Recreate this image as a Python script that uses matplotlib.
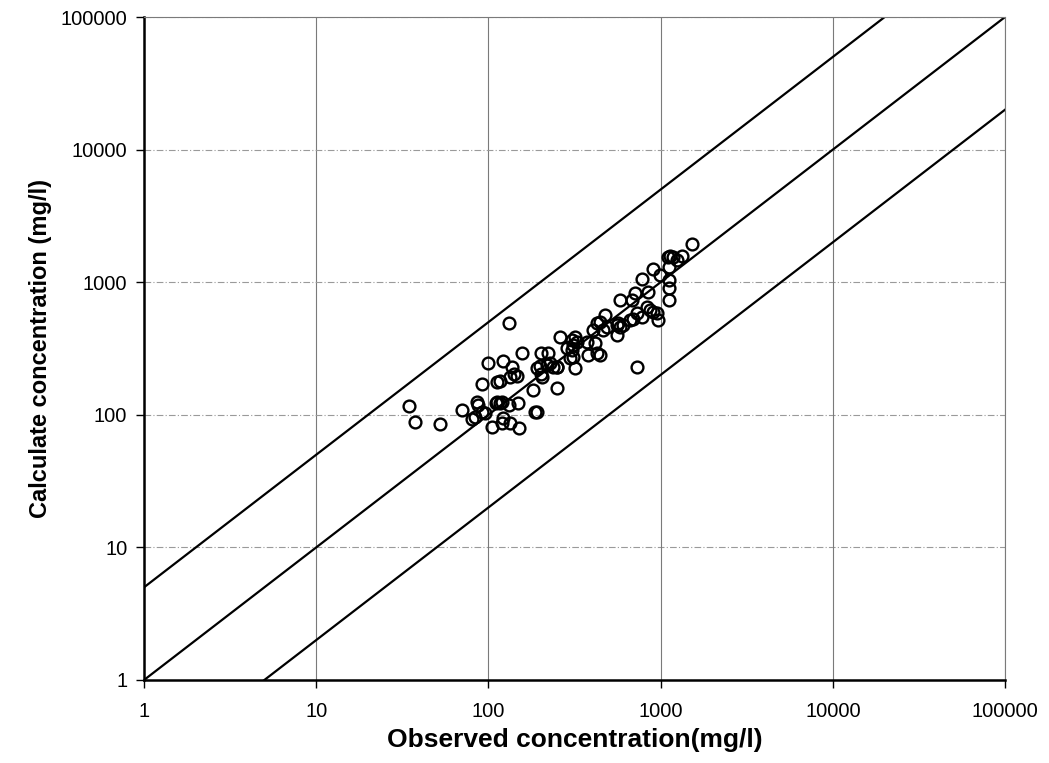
import numpy as np
import matplotlib
matplotlib.use("Agg")
from matplotlib import pyplot as plt

plt.rcParams['font.family'] = ['Liberation Sans', 'DejaVu Sans']

# observed (x) vs calculated (y) concentration, mg/l
observed = [34.6, 37.3, 52.4, 70.6,
            80, 83.6, 85.5, 87.4, 91.4, 95.5,
            104.4, 112.6, 116.8, 119.4, 110.7,
            122, 119.4, 133.5, 151, 149, 132,
            182, 191, 187, 249,
            100, 121, 132, 156, 92, 116.8, 112, 133.5, 141.5, 146, 136.5,
            192, 198, 201, 204, 218, 228, 238, 249, 202, 223, 249,
            261, 285, 305, 311, 318, 326, 311, 318, 298, 305,
            372, 381, 416, 425, 445, 407,
            425, 445, 476, 465, 486, 556, 568, 581, 556, 608, 664, 695, 777, 726, 679, 710, 581,
            830, 867, 907, 949, 970, 726, 777, 849, 907, 993,
            1109, 1135, 1186, 1240, 1325, 1125, 1125, 1125, 1125, 1514]
calculated = [116, 88, 85.2, 108.7,
              92.4, 96.8, 125.6, 118.6, 105.6, 102.6,
              81.3, 125.6, 122, 125.6, 122,
              94, 86.3, 86.3, 80, 122, 118.6,
              154, 105.6, 105.6, 158,
              244, 255, 495, 294, 170, 180, 176, 194, 202, 197, 231,
              224, 233, 203, 194, 238, 247, 231, 228, 294, 294, 231,
              388, 317, 367, 336, 388, 356, 274, 224, 267, 308,
              356, 282, 346, 291, 282, 436,
              490, 504, 566, 436, 462, 476, 490, 462, 400, 476, 519, 525, 550, 582, 734, 824, 734,
              654, 617, 600, 582, 519, 228, 1051, 849, 1250, 1133,
              1559, 1577, 1559, 1469, 1577, 1309, 1039, 899, 734, 1941]

ratios = [5, 1, 0.2]   # y = 5x, y = x, y = x/5
line_x = [1, 100000]
ticks = [1, 10, 100, 1000, 10000, 100000]
tick_labels = ['1', '10', '100', '1000', '10000', '100000']

fig = plt.figure(figsize=(10.49, 7.63), dpi=100)
ax = fig.add_axes([0.1373, 0.1088, 0.8208, 0.8689])
ax.set_xscale('log')
ax.set_yscale('log')
ax.set_xlim(1, 100000)
ax.set_ylim(1, 100000)

# grid
for t in ticks:
    ax.axvline(t, color='#7a7a7a', lw=0.8, zorder=0)
    ax.axhline(t, color='#9a9a9a', lw=0.8, ls=(0, (6, 2, 1, 2)), zorder=0)

for r in ratios:
    ax.plot(line_x, [r * v for v in line_x], color='black', lw=1.6, zorder=2)

ax.plot(observed, calculated, linestyle='none', marker='o', markersize=8.5,
        markerfacecolor='none', markeredgecolor='black', markeredgewidth=1.7, zorder=3)

ax.set_xticks(ticks)
ax.set_xticklabels(tick_labels)
ax.set_yticks(ticks)
ax.set_yticklabels(tick_labels)
ax.minorticks_off()
ax.tick_params(axis='both', which='major', labelsize=14.5, direction='out', length=6, width=1)
ax.tick_params(axis='x', pad=10)
ax.tick_params(axis='y', pad=6)

for s in ['left', 'bottom']:
    ax.spines[s].set_linewidth(1.8)
    ax.spines[s].set_color('black')
for s in ['top', 'right']:
    ax.spines[s].set_linewidth(0.8)
    ax.spines[s].set_color('#7a7a7a')

ax.set_xlabel('Observed concentration(mg/l)', fontsize=19, fontweight='bold', labelpad=5)
ax.set_ylabel('Calculate concentration (mg/l)', fontsize=17, fontweight='bold', labelpad=6)

fig.savefig('out.png', dpi=100)
